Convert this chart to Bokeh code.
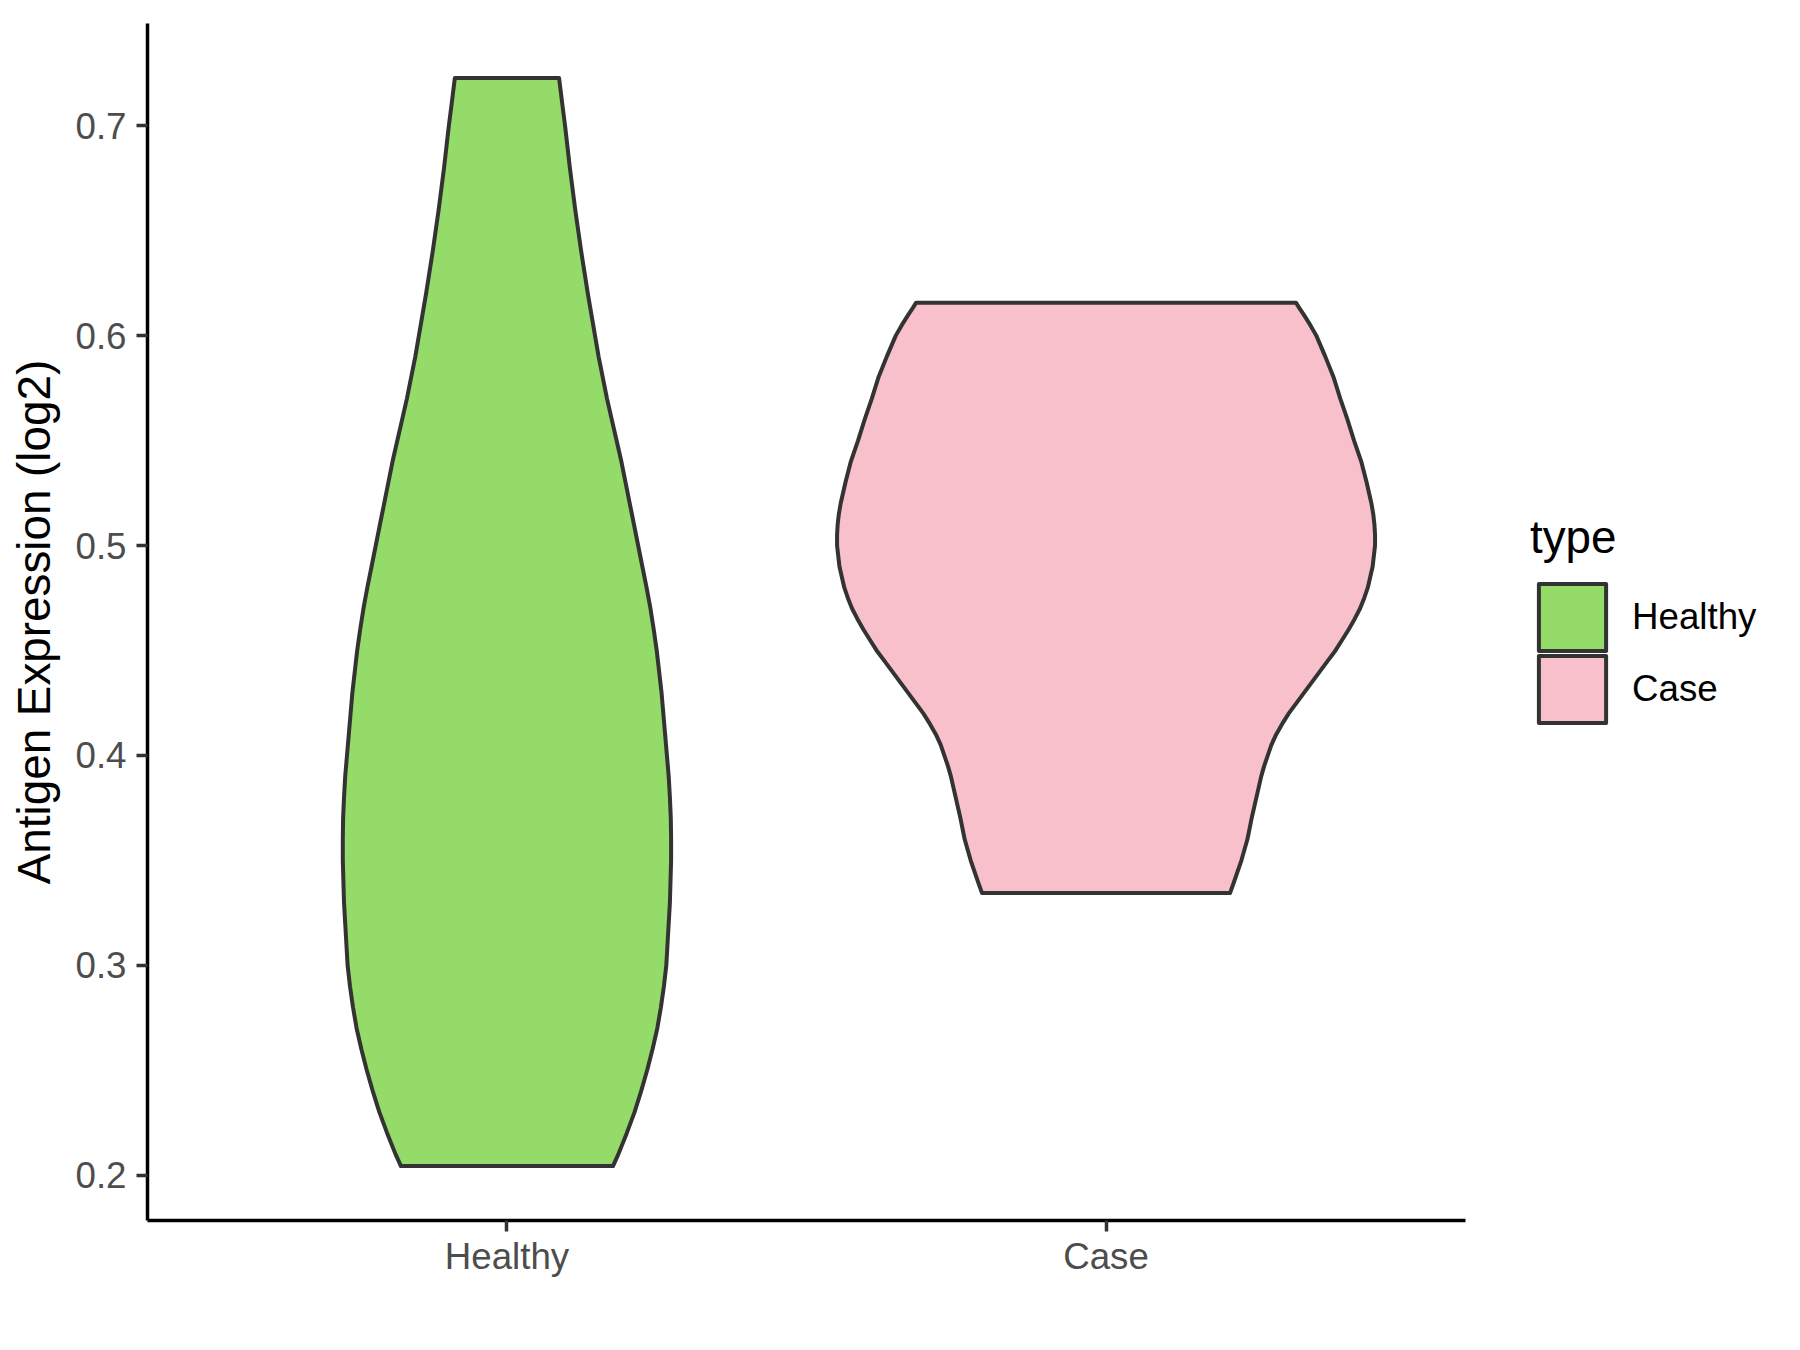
from bokeh.plotting import figure
from bokeh.models import Range1d, FixedTicker, Legend, LegendItem
from bokeh.embed import file_html
from bokeh.resources import INLINE

# ---- data ----
categories = ["Healthy", "Case"]
fill_colors = ["#94DB6A", "#F7C0CB"]

# violin outline: expression value (log2) and half-width (in category units)
healthy_y = [0.2043, 0.21, 0.22, 0.23, 0.24, 0.25, 0.26, 0.27, 0.28, 0.29, 0.30,
             0.31, 0.32, 0.33, 0.34, 0.35, 0.36, 0.37, 0.38, 0.39, 0.40, 0.41,
             0.42, 0.43, 0.44, 0.45, 0.46, 0.47, 0.48, 0.49, 0.50, 0.51, 0.52,
             0.53, 0.54, 0.55, 0.56, 0.57, 0.58, 0.59, 0.60, 0.61, 0.62, 0.63,
             0.64, 0.65, 0.66, 0.67, 0.68, 0.69, 0.70, 0.71, 0.7228]
healthy_halfwidth = [0.177, 0.186, 0.200, 0.213, 0.224, 0.234, 0.243, 0.251, 0.257,
                     0.262, 0.266, 0.268, 0.270, 0.272, 0.273, 0.274, 0.274, 0.2735,
                     0.272, 0.270, 0.267, 0.264, 0.261, 0.258, 0.254, 0.250, 0.245,
                     0.2395, 0.233, 0.226, 0.219, 0.212, 0.205, 0.198, 0.191, 0.183,
                     0.175, 0.167, 0.160, 0.153, 0.147, 0.141, 0.135, 0.1295, 0.124,
                     0.119, 0.114, 0.1095, 0.105, 0.101, 0.097, 0.0925, 0.087]

case_y = [0.3344, 0.34, 0.35, 0.36, 0.37, 0.375, 0.38, 0.385, 0.39, 0.395, 0.40,
          0.405, 0.41, 0.415, 0.42, 0.425, 0.43, 0.435, 0.44, 0.445, 0.45, 0.455,
          0.46, 0.465, 0.47, 0.475, 0.48, 0.485, 0.49, 0.495, 0.50, 0.505, 0.51,
          0.515, 0.52, 0.53, 0.54, 0.55, 0.56, 0.57, 0.58, 0.59, 0.60, 0.605,
          0.61, 0.613, 0.6157]
case_halfwidth = [0.207, 0.214, 0.226, 0.236, 0.243, 0.247, 0.251, 0.255, 0.259,
                  0.264, 0.270, 0.276, 0.284, 0.294, 0.305, 0.318, 0.331, 0.344,
                  0.357, 0.370, 0.383, 0.394, 0.405, 0.415, 0.424, 0.431, 0.437,
                  0.441, 0.445, 0.447, 0.449, 0.449, 0.448, 0.446, 0.443, 0.435,
                  0.426, 0.414, 0.403, 0.391, 0.380, 0.366, 0.351, 0.341, 0.330,
                  0.323, 0.317]

y_ticks = [0.2, 0.3, 0.4, 0.5, 0.6, 0.7]
y_tick_labels = ["0.2", "0.3", "0.4", "0.5", "0.6", "0.7"]
y_title = "Antigen Expression (log2)"
legend_title = "type"

FONT = "Liberation Sans"

# ---- layout in screen pixels ----
W, H = 1784, 1334
LEFT, TOP, BOTTOM = 147, 23, 114
AXIS_PX = 1318                 # width of the drawn x axis (the panel)
FRAME_PX = W - LEFT            # frame also holds the legend area on the right

# ---- ranges (ggplot-like expansion) ----
all_y = healthy_y + case_y
lo, hi = min(all_y), max(all_y)
pad = 0.05 * (hi - lo)
n = len(categories)
x_start, x_axis_end = 1 - 0.6, n + 0.6
x_end = x_start + (x_axis_end - x_start) * FRAME_PX / AXIS_PX

p = figure(width=W, height=H, output_backend="svg", toolbar_location=None,
           x_range=Range1d(x_start, x_end), y_range=Range1d(lo - pad, hi + pad),
           min_border_left=LEFT, min_border_right=0, min_border_top=TOP,
           min_border_bottom=BOTTOM)
p.outline_line_color = None
p.grid.visible = False
p.background_fill_color = "white"
p.border_fill_color = "white"

groups = [(healthy_y, healthy_halfwidth), (case_y, case_halfwidth)]
renderers = []
for i, (cat, (ys, hw)) in enumerate(zip(categories, groups)):
    pos = i + 1
    px = [pos + w for w in hw] + [pos - w for w in reversed(hw)]
    py = list(ys) + list(reversed(ys))
    r = p.patch(px, py, fill_color=fill_colors[i], line_color="#333333",
                line_width=4, line_join="round")
    renderers.append(r)

# ---- axes ----
xa = p.xaxis[0]
xa.bounds = (x_start, x_axis_end)
xa.ticker = FixedTicker(ticks=[i + 1 for i in range(n)])
xa.major_label_overrides = {i + 1: c for i, c in enumerate(categories)}
ya = p.yaxis[0]
ya.ticker = FixedTicker(ticks=y_ticks)
ya.major_label_overrides = {t: l for t, l in zip(y_ticks, y_tick_labels)}
ya.axis_label = y_title

for ax in (xa, ya):
    ax.axis_line_color = "black"
    ax.axis_line_width = 3.5
    ax.major_tick_line_color = "#333333"
    ax.major_tick_line_width = 3.5
    ax.major_tick_out = 11
    ax.major_tick_in = 0
    ax.minor_tick_out = 0
    ax.minor_tick_in = 0
    ax.major_label_text_font = FONT
    ax.major_label_text_font_size = "36.7px"
    ax.major_label_text_color = "#4D4D4D"
    ax.axis_label_text_font = FONT
    ax.axis_label_text_font_size = "45.8px"
    ax.axis_label_text_font_style = "normal"
    ax.axis_label_text_color = "black"
xa.major_label_standoff = 4
ya.major_label_standoff = 10
ya.axis_label_standoff = 12


# ---- legend: one block per key so that the key pitch matches ----
def make_legend(item, title, loc):
    lg = Legend(items=[item], location=loc, orientation="vertical")
    if title:
        lg.title = title
    lg.title_text_font = FONT
    lg.title_text_font_size = "45.8px"
    lg.title_text_font_style = "normal"
    lg.title_text_color = "black"
    lg.title_standoff = 11
    lg.label_text_font = FONT
    lg.label_text_font_size = "36.7px"
    lg.label_text_color = "black"
    lg.glyph_width = 84
    lg.glyph_height = 84
    lg.spacing = 0
    lg.label_standoff = 18
    lg.padding = 0
    lg.margin = 0
    lg.border_line_color = None
    lg.background_fill_alpha = 0
    return lg


legend_locs = [(1383, 561), (1383, 489)]
for i, (cat, r) in enumerate(zip(categories, renderers)):
    lg = make_legend(LegendItem(label=cat, renderers=[r]),
                     legend_title if i == 0 else None, legend_locs[i])
    p.add_layout(lg, "center")

open("out.html", "w").write(file_html(p, INLINE))
